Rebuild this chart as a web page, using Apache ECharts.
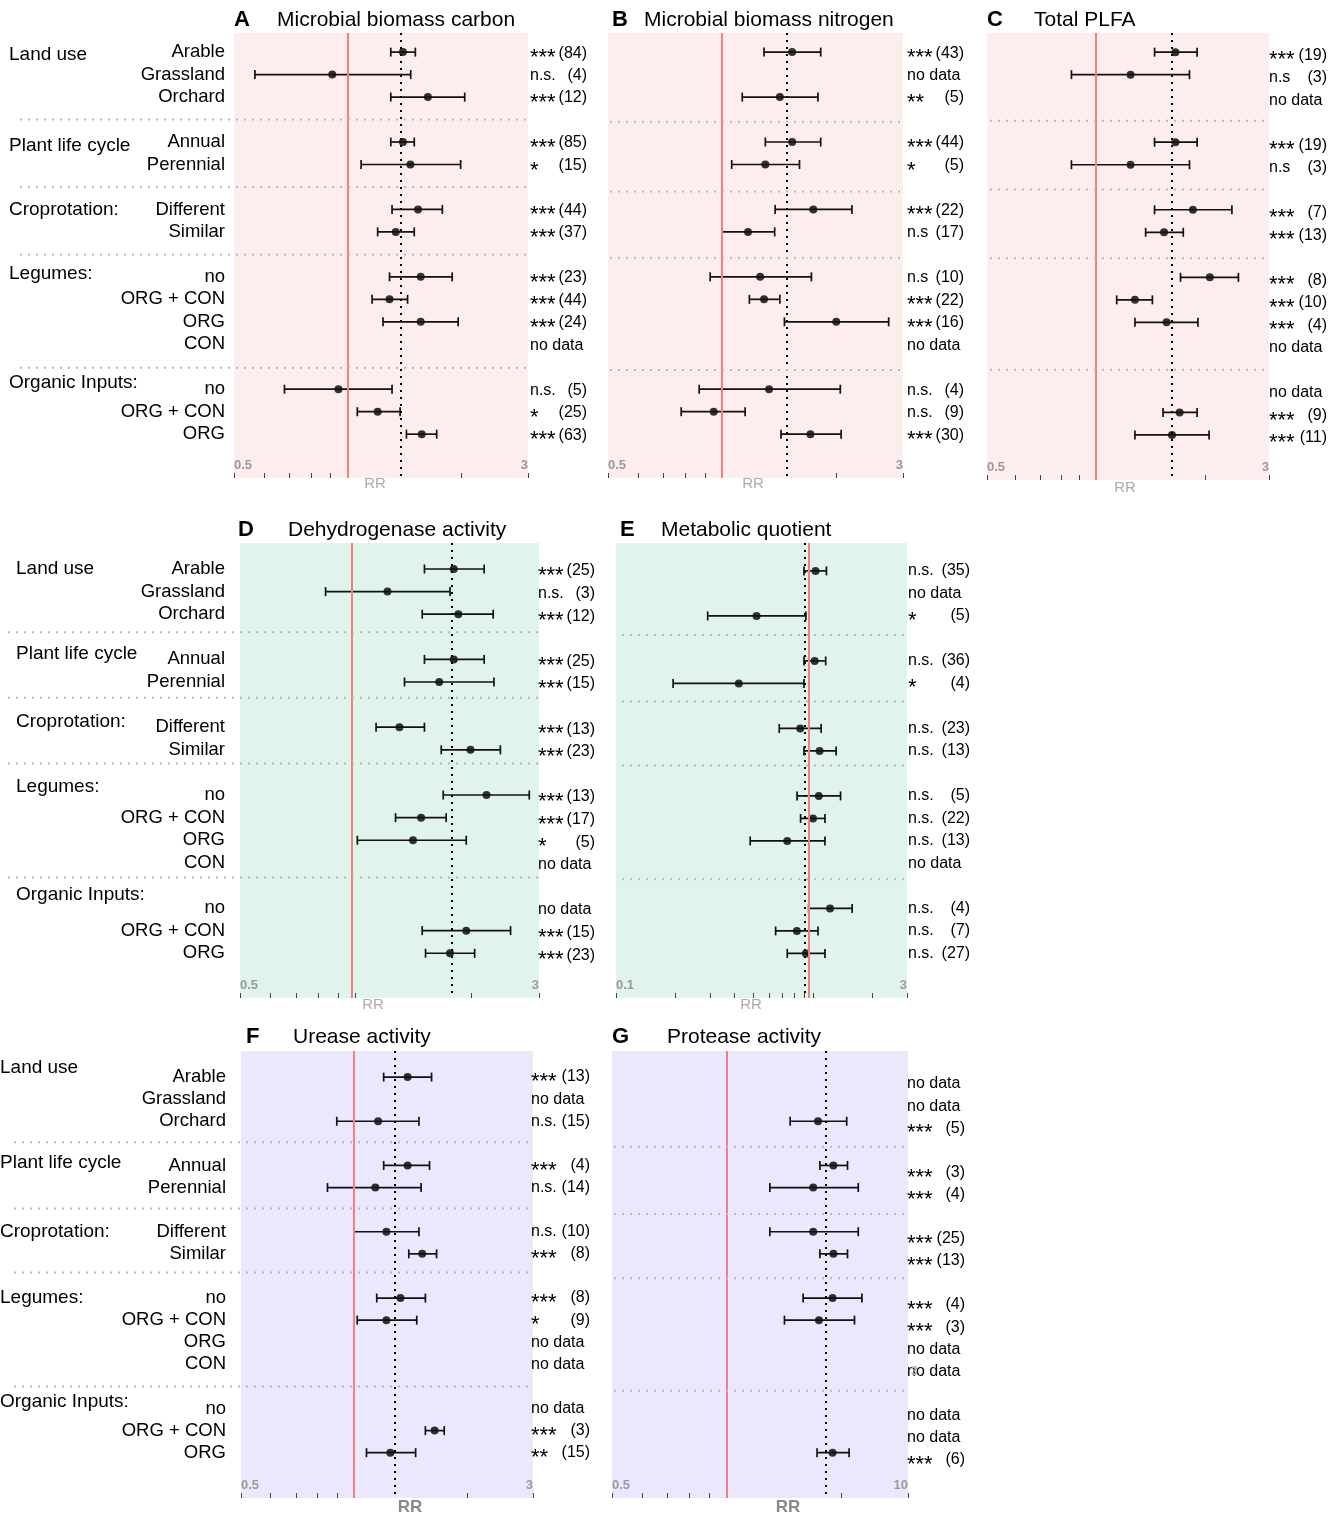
<html lang="en">
<head>
  <meta charset="utf-8"/>
  <script src="https://cdn.jsdelivr.net/npm/echarts@6.0.0/dist/echarts.min.js"></script>
  <style>
    body { margin: 0; background: #fff; }
    #chart { width: 1341px; height: 1514px; }
  </style>
</head>
<body>
<div id="chart"></div>
<script>
  // rows shared by all panels
  var rowNames = ['Arable', 'Grassland', 'Orchard', 'Annual', 'Perennial', 'Different', 'Similar',
    'no', 'ORG + CON', 'ORG', 'CON', 'no', 'ORG + CON', 'ORG'];
  var rowSlots = [0, 1, 2, 4, 5, 7, 8, 10, 11, 12, 13, 15, 16, 17];
  var groupNames = ['Land use', 'Plant life cycle', 'Croprotation:', 'Legumes:', 'Organic Inputs:'];

  // tick values / labels
  var ticksStd = [0.5, 0.6, 0.7, 0.8, 0.9, 1, 2, 3];
  var ticksWide = [0.1, 0.2, 0.3, 0.4, 0.5, 0.6, 0.7, 0.8, 0.9, 1, 2, 3];
  var labelsStd = ['0.5', '3'];
  var labelsWide = ['0.1', '3'];
  var labelsProt = ['0.5', '10'];

  // A microbial biomass carbon
  var mbcRR = [1.40, 0.91, 1.63, 1.40, 1.465, 1.535, 1.34, 1.56, 1.29, 1.56, null, 0.945, 1.20, 1.57];
  var mbcLo = [1.30, 0.568, 1.30, 1.30, 1.085, 1.31, 1.20, 1.29, 1.16, 1.24, null, 0.68, 1.06, 1.43];
  var mbcHi = [1.51, 1.468, 2.04, 1.50, 1.99, 1.78, 1.50, 1.89, 1.44, 1.96, null, 1.31, 1.376, 1.72];
  var mbcSig = ['***', 'n.s.', '***', '***', '*', '***', '***', '***', '***', '***', 'no data', 'n.s.', '*', '***'];
  var mbcN = ['(84)', '(4)', '(12)', '(85)', '(15)', '(44)', '(37)', '(23)', '(44)', '(24)', '', '(5)', '(25)', '(63)'];
  var mbcMean = 1.376;

  // B microbial biomass nitrogen
  var mbnRR = [1.53, null, 1.42, 1.53, 1.30, 1.74, 1.17, 1.26, 1.29, 2.00, null, 1.33, 0.95, 1.71];
  var mbnLo = [1.29, null, 1.13, 1.30, 1.06, 1.38, 1.00, 0.93, 1.18, 1.46, null, 0.87, 0.78, 1.43];
  var mbnHi = [1.82, null, 1.79, 1.82, 1.60, 2.20, 1.376, 1.72, 1.42, 2.75, null, 2.05, 1.15, 2.06];
  var mbnSig = ['***', 'no data', '**', '***', '*', '***', 'n.s', 'n.s', '***', '***', 'no data', 'n.s.', 'n.s.', '***'];
  var mbnN = ['(43)', '', '(5)', '(44)', '(5)', '(22)', '(17)', '(10)', '(22)', '(16)', '', '(4)', '(9)', '(30)'];
  var mbnMean = 1.495;

  // C total PLFA
  var plfaRR = [1.655, 1.245, null, 1.655, 1.245, 1.85, 1.54, 2.06, 1.28, 1.565, null, null, 1.70, 1.62];
  var plfaLo = [1.45, 0.855, null, 1.45, 0.855, 1.45, 1.37, 1.71, 1.14, 1.28, null, null, 1.53, 1.28];
  var plfaHi = [1.90, 1.81, null, 1.90, 1.81, 2.37, 1.74, 2.47, 1.43, 1.91, null, null, 1.90, 2.05];
  var plfaSig = ['***', 'n.s', 'no data', '***', 'n.s', '***', '***', '***', '***', '***', 'no data', 'no data', '***', '***'];
  var plfaN = ['(19)', '(3)', '', '(19)', '(3)', '(7)', '(13)', '(8)', '(10)', '(4)', '', '', '(9)', '(11)'];
  var plfaMean = 1.64;

  // D dehydrogenase activity
  var dhaRR = [1.80, 1.21, 1.85, 1.80, 1.65, 1.30, 1.99, 2.19, 1.48, 1.41, null, null, 1.94, 1.76];
  var dhaLo = [1.51, 0.835, 1.49, 1.51, 1.34, 1.13, 1.67, 1.69, 1.27, 1.01, null, null, 1.49, 1.52];
  var dhaHi = [2.16, 1.76, 2.28, 2.16, 2.29, 1.51, 2.38, 2.83, 1.72, 1.94, null, null, 2.53, 2.04];
  var dhaSig = ['***', 'n.s.', '***', '***', '***', '***', '***', '***', '***', '*', 'no data', 'no data', '***', '***'];
  var dhaN = ['(25)', '(3)', '(12)', '(25)', '(15)', '(13)', '(23)', '(13)', '(17)', '(5)', '', '', '(15)', '(23)'];
  var dhaMean = 1.77;

  // E metabolic quotient
  var qRR = [1.03, null, 0.517, 1.02, 0.42, 0.861, 1.08, 1.07, 1.00, 0.74, null, 1.22, 0.828, 0.92];
  var qLo = [0.90, null, 0.292, 0.90, 0.195, 0.674, 0.90, 0.83, 0.865, 0.48, null, 0.95, 0.646, 0.74];
  var qHi = [1.17, null, 0.92, 1.16, 0.90, 1.10, 1.31, 1.38, 1.15, 1.15, null, 1.58, 1.06, 1.15];
  var qSig = ['n.s.', 'no data', '*', 'n.s.', '*', 'n.s.', 'n.s.', 'n.s.', 'n.s.', 'n.s.', 'no data', 'n.s.', 'n.s.', 'n.s.'];
  var qN = ['(35)', '', '(5)', '(36)', '(4)', '(23)', '(13)', '(5)', '(22)', '(13)', '', '(4)', '(7)', '(27)'];
  var qMean = 0.906;

  // F urease activity
  var ureRR = [1.39, null, 1.16, 1.39, 1.14, 1.22, 1.52, 1.33, 1.22, null, null, null, 1.64, 1.25];
  var ureLo = [1.20, null, 0.90, 1.20, 0.85, 1.00, 1.40, 1.15, 1.02, null, null, null, 1.55, 1.08];
  var ureHi = [1.61, null, 1.49, 1.59, 1.51, 1.49, 1.66, 1.55, 1.47, null, null, null, 1.74, 1.46];
  var ureSig = ['***', 'no data', 'n.s.', '***', 'n.s.', 'n.s.', '***', '***', '*', 'no data', 'no data', 'no data', '***', '**'];
  var ureN = ['(13)', '', '(15)', '(4)', '(14)', '(10)', '(8)', '(8)', '(9)', '', '', '', '(3)', '(15)'];
  var ureMean = 1.30;

  // G protease activity
  var proRR = [null, null, 1.74, 1.91, 1.69, 1.69, 1.91, 1.90, 1.75, null, null, null, null, 1.90];
  var proLo = [null, null, 1.47, 1.76, 1.30, 1.30, 1.76, 1.59, 1.42, null, null, null, null, 1.73];
  var proHi = [null, null, 2.07, 2.08, 2.22, 2.22, 2.08, 2.27, 2.17, null, null, null, null, 2.10];
  var proSig = ['no data', 'no data', '***', '***', '***', '***', '***', '***', '***', 'no data', 'no data', 'no data', 'no data', '***'];
  var proN = ['', '', '(5)', '(3)', '(4)', '(25)', '(13)', '(4)', '(3)', '', '', '', '', '(6)'];
  var proMean = 1.81;

  var FONT = '"Liberation Sans", Arial, sans-serif';
  var PINK = '#fdeeed', MINT = '#e1f4ec', LILAC = '#ede7fd';

  var panels = [
    {letter: 'A', title: 'Microbial biomass carbon', rr: mbcRR, lo: mbcLo, hi: mbcHi, sig: mbcSig, n: mbcN,
      mean: mbcMean, ref: 1, ticks: ticksStd, tickLabels: labelsStd, bg: PINK,
      left: 234, top: 33, width: 294, height: 445, yMin: -0.85, yMax: 18.95,
      seps: [3, 6, 9, 14.05], sepX: [20, 528], sigX: 530, nX: 587, annDy: 1,
      letterX: 234, titleX: 277, titleY: 20, rrX: 375, rrY: 484,
      rowX: 225, groupX: 9, groupSlots: [0.1, 4.15, 7, 9.85, 14.7]},
    {letter: 'B', title: 'Microbial biomass nitrogen', rr: mbnRR, lo: mbnLo, hi: mbnHi, sig: mbnSig, n: mbnN,
      mean: mbnMean, ref: 1, ticks: ticksStd, tickLabels: labelsStd, bg: PINK,
      left: 608, top: 33, width: 295, height: 445, yMin: -0.85, yMax: 18.95,
      seps: [3.1, 6.2, 9.15, 14.15], sepX: [610, 903], sigX: 907, nX: 964, annDy: 1,
      letterX: 612, titleX: 644, titleY: 20, rrX: 753, rrY: 484},
    {letter: 'C', title: 'Total PLFA', rr: plfaRR, lo: plfaLo, hi: plfaHi, sig: plfaSig, n: plfaN,
      mean: plfaMean, ref: 1, ticks: ticksStd, tickLabels: labelsStd, bg: PINK,
      left: 987, top: 33, width: 282, height: 447, yMin: -0.85, yMax: 19.0,
      seps: [3.05, 6.1, 9.15, 14.1], sepX: [990, 1266], sigX: 1269, nX: 1327, annDy: 3,
      letterX: 987, titleX: 1034, titleY: 20, rrX: 1125, rrY: 488},
    {letter: 'D', title: 'Dehydrogenase activity', rr: dhaRR, lo: dhaLo, hi: dhaHi, sig: dhaSig, n: dhaN,
      mean: dhaMean, ref: 0.985, ticks: ticksStd, tickLabels: labelsStd, bg: MINT,
      left: 240, top: 543, width: 299, height: 455, yMin: -1.15, yMax: 18.98,
      seps: [2.8, 5.7, 8.6, 13.65], sepX: [8, 538], sigX: 538, nX: 595, annDy: 2,
      letterX: 238, titleX: 288, titleY: 530, rrX: 373, rrY: 1005,
      rowX: 225, groupX: 16, groupSlots: [0, 3.75, 6.75, 9.65, 14.4]},
    {letter: 'E', title: 'Metabolic quotient', rr: qRR, lo: qLo, hi: qHi, sig: qSig, n: qN,
      mean: qMean, ref: 0.96, ticks: ticksWide, tickLabels: labelsWide, bg: MINT,
      left: 616, top: 543, width: 291, height: 455, yMin: -1.24, yMax: 18.98,
      seps: [2.85, 5.8, 8.65, 13.7], sepX: [622, 905], sigX: 908, nX: 970, annDy: 0,
      letterX: 620, titleX: 661, titleY: 530, rrX: 751, rrY: 1005},
    {letter: 'F', title: 'Urease activity', rr: ureRR, lo: ureLo, hi: ureHi, sig: ureSig, n: ureN,
      mean: ureMean, ref: 1, ticks: ticksStd, tickLabels: labelsStd, bg: LILAC,
      left: 241, top: 1051, width: 292, height: 447, yMin: -1.18, yMax: 19.05,
      seps: [2.95, 5.95, 8.85, 14.0], sepX: [14, 533], sigX: 531, nX: 590, annDy: 0,
      letterX: 246, titleX: 293, titleY: 1037, rrX: 410, rrY: 1507, rrBold: true,
      rowX: 226, groupX: 0, groupSlots: [-0.4, 3.9, 7, 10, 14.7]},
    {letter: 'G', title: 'Protease activity', rr: proRR, lo: proLo, hi: proHi, sig: proSig, n: proN,
      mean: proMean, ref: 1, ticks: ticksStd, tickLabels: labelsProt, bg: LILAC,
      left: 612, top: 1051, width: 296, height: 447, yMin: -1.18, yMax: 19.05,
      seps: [3.15, 6.2, 9.1, 14.2], sepX: [614, 906], sigX: 907, nX: 965, annDy: 7,
      letterX: 612, titleX: 667, titleY: 1037, rrX: 788, rrY: 1507, rrBold: true}
  ];

  function lg(v) { return Math.log10(v); }

  function renderErrorBar(params, api) {
    var y = api.value(2);
    var a = api.coord([api.value(0), y]);
    var b = api.coord([api.value(1), y]);
    var cap = 4.5;
    var st = {stroke: '#111', lineWidth: 1.7};
    return {
      type: 'group',
      children: [
        {type: 'line', shape: {x1: a[0], y1: a[1], x2: b[0], y2: b[1]}, style: st},
        {type: 'line', shape: {x1: a[0], y1: a[1] - cap, x2: a[0], y2: a[1] + cap}, style: st},
        {type: 'line', shape: {x1: b[0], y1: b[1] - cap, x2: b[0], y2: b[1] + cap}, style: st}
      ]
    };
  }

  var grids = [], xAxes = [], yAxes = [], series = [];
  panels.forEach(function (p, i) {
    var xMin = lg(p.ticks[0]), xMax = lg(p.ticks[p.ticks.length - 1]);
    grids.push({left: p.left, top: p.top, width: p.width, height: p.height,
      show: true, backgroundColor: p.bg, borderWidth: 0});
    xAxes.push({
      type: 'value', gridIndex: i, position: 'bottom', min: xMin, max: xMax,
      splitLine: {show: false},
      axisLine: {show: false, onZero: false},
      axisTick: {show: true, inside: true, length: 5, customValues: p.ticks.map(lg),
        lineStyle: {color: '#444', width: 1}},
      axisLabel: {show: true, inside: true, margin: 6, customValues: [xMin, xMax],
        color: '#9a9a9a', fontWeight: 'bold', fontSize: 13, fontFamily: FONT,
        alignMinLabel: 'left', alignMaxLabel: 'right',
        formatter: function (v) { return Math.abs(v - xMin) < 1e-6 ? p.tickLabels[0] : p.tickLabels[1]; }}
    });
    yAxes.push({type: 'value', gridIndex: i, inverse: true, min: p.yMin, max: p.yMax, show: false});

    var pts = [], bars = [];
    p.rr.forEach(function (v, k) {
      if (v == null) return;
      pts.push([lg(v), rowSlots[k]]);
      bars.push([lg(p.lo[k]), lg(p.hi[k]), rowSlots[k]]);
    });
    series.push({
      type: 'scatter', xAxisIndex: i, yAxisIndex: i, z: 1, silent: true,
      symbolSize: 8, itemStyle: {color: '#000'}, data: pts,
      markLine: {
        silent: true, symbol: 'none', label: {show: false}, animation: false,
        data: [
          {xAxis: lg(p.ref), lineStyle: {color: '#f47f7f', width: 2, type: 'solid'}},
          {xAxis: lg(p.mean), lineStyle: {color: '#000', width: 2, type: [2, 5]}}
        ]
      }
    });
    series.push({
      type: 'custom', xAxisIndex: i, yAxisIndex: i, z: 2, silent: true,
      renderItem: renderErrorBar, encode: {x: [0, 1], y: 2}, data: bars
    });
  });

  var chart = echarts.init(document.getElementById('chart'), null, {renderer: 'canvas'});
  chart.setOption({
    animation: false,
    backgroundColor: '#fff',
    grid: grids, xAxis: xAxes, yAxis: yAxes, series: series
  });

  // texts and separators, positioned through the grids' scales
  var g = [];
  function txt(x, y, s, o) {
    var style = {x: x, y: y, text: s, fill: '#000', font: '18.5px ' + FONT, textAlign: 'left', textVerticalAlign: 'middle'};
    for (var k in o) style[k] = o[k];
    g.push({type: 'text', silent: true, style: style, z: 10});
  }
  panels.forEach(function (p, i) {
    var yPix = function (slot) { return chart.convertToPixel({gridIndex: i}, [0, slot])[1]; };
    txt(p.letterX, p.titleY, p.letter, {font: 'bold 22px ' + FONT});
    txt(p.titleX, p.titleY, p.title, {font: '21px ' + FONT});
    txt(p.rrX, p.rrY, 'RR', {textAlign: 'center', fill: p.rrBold ? '#8a8a8a' : '#ababab',
      font: (p.rrBold ? 'bold 17px ' : '15px ') + FONT});
    p.seps.forEach(function (s) {
      var y = yPix(s);
      g.push({type: 'line', silent: true, z: 5, shape: {x1: p.sepX[0], y1: y, x2: p.sepX[1], y2: y},
        style: {stroke: '#b8b8b8', lineWidth: 2, lineDash: [2, 6]}});
    });
    p.sig.forEach(function (s, k) {
      var y = yPix(rowSlots[k]) + p.annDy;
      if (s.charAt(0) === '*') {
        txt(p.sigX, y + 5, s, {font: '22px ' + FONT});
      } else {
        txt(p.sigX, y, s, {font: '16px ' + FONT});
      }
      if (p.n[k]) txt(p.nX, y, p.n[k], {font: '16px ' + FONT, textAlign: 'right'});
    });
    if (p.rowX != null) {
      rowNames.forEach(function (r, k) {
        txt(p.rowX, yPix(rowSlots[k]), r, {textAlign: 'right'});
      });
      groupNames.forEach(function (r, k) {
        txt(p.groupX, yPix(p.groupSlots[k]), r, {font: '19px ' + FONT});
      });
    }
  });
  // stray tick label left in the protease panel
  txt(911, 1372, '3', {font: 'bold 12px ' + FONT, fill: '#b0b0b0'});

  chart.setOption({graphic: g});
</script>
</body>
</html>
